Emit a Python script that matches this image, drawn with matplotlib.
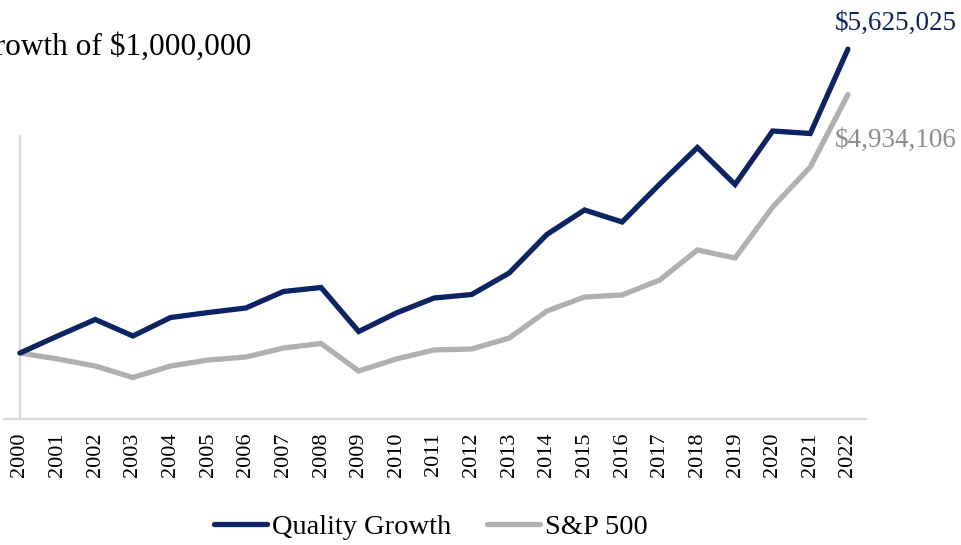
import matplotlib
matplotlib.use("Agg")
import matplotlib.pyplot as plt

years = [str(y) for y in range(2000, 2023)]
quality_growth = [1.000, 1.259, 1.510, 1.259, 1.540, 1.616, 1.685, 1.936, 1.997, 1.327,
                  1.609, 1.837, 1.890, 2.218, 2.804, 3.177, 2.994, 3.572, 4.128, 3.565,
                  4.379, 4.341, 5.625025]
sp500 = [1.000, 0.909, 0.802, 0.627, 0.802, 0.893, 0.939, 1.076, 1.145, 0.726,
         0.909, 1.046, 1.061, 1.228, 1.639, 1.852, 1.883, 2.111, 2.568, 2.446,
         3.222, 3.831, 4.934106]
series_names = ["Quality Growth", "S&P 500"]
title = "Growth of $1,000,000"

NAVY = "#0c2463"
GRAY = "#b2afaf"
SPINE = "#d9d9d9"
FONT = ["Liberation Serif", "DejaVu Serif"]
plt.rcParams["font.family"] = FONT

W, H = 962, 545
fig = plt.figure(figsize=(W / 100, H / 100), dpi=100)

# axes geometry in pixels
ax_left, ax_right = 4, 866
ax_bottom_px, ax_top_px = 418.7, 30
px_per_m = 65.7
ax = fig.add_axes([ax_left / W, (H - ax_bottom_px) / H,
                   (ax_right - ax_left) / W, (ax_bottom_px - ax_top_px) / H])

x = list(range(len(years)))
ax.plot(x, quality_growth, color=NAVY, lw=3.8, solid_capstyle="round",
        solid_joinstyle="miter", label=series_names[0], zorder=3)
ax.plot(x, sp500, color=GRAY, lw=3.8, solid_capstyle="round",
        solid_joinstyle="miter", label=series_names[1], zorder=2)

ax.set_xlim(-0.425, len(years) - 1 + 0.48)
ax.set_ylim(0, (ax_bottom_px - ax_top_px) / px_per_m)

for s in ["top", "right"]:
    ax.spines[s].set_visible(False)
ax.spines["bottom"].set_color(SPINE)
ax.spines["bottom"].set_linewidth(1.6)
ax.spines["left"].set_color(SPINE)
ax.spines["left"].set_linewidth(1.6)
ax.spines["left"].set_position(("data", 0))
ax.spines["left"].set_bounds(0, (ax_bottom_px - 136) / px_per_m)

ax.set_yticks([])
ax.set_xticks(x)
ax.set_xticklabels(years, rotation=90, fontsize=16, va="top")
ax.tick_params(axis="x", length=0, pad=10)

# end-value labels
ax.annotate(f"${quality_growth[-1]*1e6:,.0f}", xy=(x[-1], quality_growth[-1]),
            xytext=(48, 26), textcoords="offset pixels", ha="center", va="center",
            color=NAVY, fontsize=19.5)
ax.annotate(f"${sp500[-1]*1e6:,.0f}", xy=(x[-1], sp500[-1]),
            xytext=(48, -46), textcoords="offset pixels", ha="center", va="center",
            color="#8e8c8c", fontsize=19.5)

fig.text(251 / W, 1 - 47 / H, title, ha="right", va="center", fontsize=22.6, color="black")

leg = fig.legend(loc="center", bbox_to_anchor=(431 / W, 1 - 527 / H), ncol=2,
                 frameon=False, fontsize=20.5, handlelength=1.85, handletextpad=0.18,
                 columnspacing=1.25)
for line in leg.get_lines():
    line.set_linewidth(3.8)
    line.set_solid_capstyle("round")

fig.savefig("out.png", dpi=100)
